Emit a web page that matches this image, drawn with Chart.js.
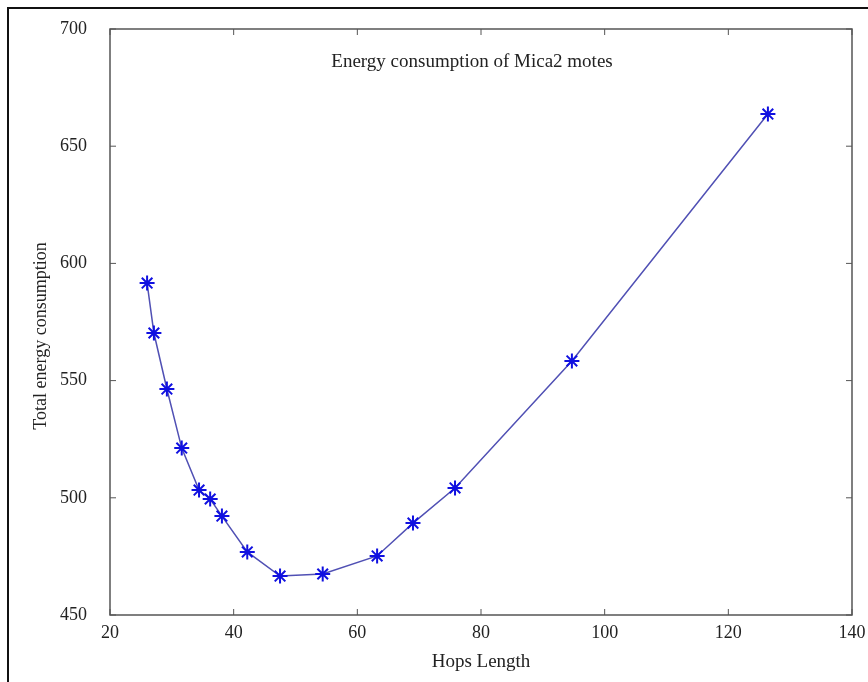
<!DOCTYPE html>
<html>
<head>
<meta charset="utf-8">
<script src="https://cdn.jsdelivr.net/npm/chart.js@4/dist/chart.umd.min.js"></script>
<style>
  html, body { margin: 0; padding: 0; background: #fff; }
  #wrap { width: 868px; height: 682px; }
</style>
</head>
<body>
<div id="wrap"><canvas id="chart" width="868" height="682"></canvas></div>
<script>
// Values
const hopsLength = [26.0, 27.1, 29.2, 31.6, 34.4, 36.2, 38.1, 42.2, 47.5, 54.4, 63.2, 69.0, 75.8, 94.7, 126.4];
const energyUsed = [591.6, 570.3, 546.4, 521.2, 503.3, 499.5, 492.2, 476.9, 466.6, 467.5, 475.2, 489.2, 504.2, 558.4, 663.7];
const xTicks = [20, 40, 60, 80, 100, 120, 140];
const yTicks = [450, 500, 550, 600, 650, 700];

const chartTitle = 'Energy consumption of Mica2 motes';
const xLabel = 'Hops Length';
const yLabel = 'Total energy consumption';

const serif = '"Liberation Serif", "DejaVu Serif", serif';

// Frame round the picture, plot box, inward ticks, inner title and y label
const framePlugin = {
  id: 'frame',
  afterDraw(chart) {
    const { ctx, chartArea: a, scales } = chart;
    ctx.save();

    // outer frame: only left and top edges show
    ctx.strokeStyle = '#111';
    ctx.lineWidth = 2;
    ctx.beginPath();
    ctx.moveTo(8, 682);
    ctx.lineTo(8, 8);
    ctx.lineTo(868, 8);
    ctx.stroke();

    // plot box
    ctx.strokeStyle = '#555';
    ctx.lineWidth = 1.5;
    ctx.strokeRect(a.left, a.top, a.right - a.left, a.bottom - a.top);

    // inward ticks on all four sides
    ctx.lineWidth = 1;
    ctx.beginPath();
    xTicks.forEach(v => {
      const px = scales.x.getPixelForValue(v);
      ctx.moveTo(px, a.bottom); ctx.lineTo(px, a.bottom - 6);
      ctx.moveTo(px, a.top); ctx.lineTo(px, a.top + 6);
    });
    yTicks.forEach(v => {
      const py = scales.y.getPixelForValue(v);
      ctx.moveTo(a.left, py); ctx.lineTo(a.left + 6, py);
      ctx.moveTo(a.right, py); ctx.lineTo(a.right - 6, py);
    });
    ctx.stroke();

    ctx.fillStyle = '#222';
    ctx.textAlign = 'center';
    ctx.textBaseline = 'middle';

    // title inside the plot
    ctx.font = '19px ' + serif;
    ctx.fillText(chartTitle, 472, 62);

    // y axis label, a bit below the middle like the reference
    ctx.font = '18px ' + serif;
    ctx.translate(41, 336);
    ctx.rotate(-Math.PI / 2);
    ctx.fillText(yLabel, 0, 0);
    ctx.restore();
  }
};

new Chart(document.getElementById('chart'), {
  type: 'line',
  data: {
    datasets: [{
      data: hopsLength.map((x, i) => ({ x: x, y: energyUsed[i] })),
      borderColor: '#5050b4',
      borderWidth: 1.5,
      pointStyle: 'star',
      pointRadius: 7.5,
      pointBorderWidth: 2,
      pointBorderColor: '#1010e0',
      pointBackgroundColor: '#1010e0',
      tension: 0
    }]
  },
  options: {
    responsive: false,
    animation: false,
    layout: { padding: { left: 0, top: 29, right: 16, bottom: 0 } },
    plugins: { legend: { display: false }, tooltip: { enabled: false } },
    scales: {
      x: {
        type: 'linear',
        min: 20, max: 140,
        afterBuildTicks: s => { s.ticks = xTicks.map(v => ({ value: v })); },
        afterFit: s => { s.height = 67; s.paddingLeft = 0; s.paddingRight = 0; },
        grid: { display: false, drawTicks: false },
        border: { display: false },
        ticks: { color: '#222', padding: 7, font: { family: serif, size: 18 } },
        title: { display: true, text: xLabel, color: '#222', padding: { bottom: 9 }, font: { family: serif, size: 19 } }
      },
      y: {
        type: 'linear',
        min: 450, max: 700,
        afterBuildTicks: s => { s.ticks = yTicks.map(v => ({ value: v })); },
        afterFit: s => { s.width = 110; s.paddingTop = 0; s.paddingBottom = 0; },
        grid: { display: false, drawTicks: false },
        border: { display: false },
        ticks: { color: '#222', padding: 23, font: { family: serif, size: 18 } },
        title: { display: false }
      }
    }
  },
  plugins: [framePlugin]
});
</script>
</body>
</html>
